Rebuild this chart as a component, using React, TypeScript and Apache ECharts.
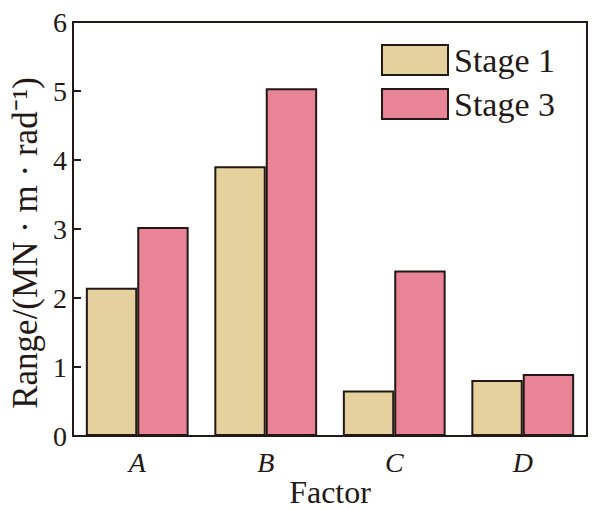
import React, { useEffect, useRef } from "react";
import * as echarts from "echarts";

const categories = ["A", "B", "C", "D"];
const stage1 = [2.15, 3.91, 0.66, 0.81];
const stage3 = [3.03, 5.04, 2.4, 0.9];
const yTicks = [0, 1, 2, 3, 4, 5, 6];

const FONT = "Liberation Serif";
const INK = "#231815";

export default function App() {
  const ref = useRef<HTMLDivElement>(null);
  useEffect(() => {
    if (!ref.current) return;
    const chart = echarts.init(ref.current, undefined, { renderer: "svg" });
    chart.setOption({
      animation: false,
      backgroundColor: "#ffffff",
      grid: {
        left: 73,
        right: 11,
        top: 22,
        bottom: 74,
        outerBoundsMode: "none",
        containLabel: false,
        show: true,
        borderColor: INK,
        borderWidth: 2,
        backgroundColor: "transparent",
      },
      legend: {
        orient: "vertical",
        left: 376,
        top: 38,
        icon: "rect",
        itemWidth: 66,
        itemHeight: 30,
        itemGap: 10,
        textStyle: { fontFamily: FONT, fontSize: 34, color: INK, padding: [0, 0, 0, 1] },
        data: ["Stage 1", "Stage 3"],
      },
      xAxis: {
        type: "category",
        data: categories,
        name: "Factor",
        nameLocation: "middle",
        nameGap: 40,
        nameMoveOverlap: false,
        nameTextStyle: { fontFamily: FONT, fontSize: 32, color: INK },
        axisLine: { show: true, lineStyle: { color: INK, width: 2 } },
        axisTick: { show: false },
        axisLabel: {
          fontFamily: FONT,
          fontSize: 28,
          fontStyle: "italic",
          color: INK,
          margin: 12,
        },
      },
      yAxis: {
        type: "value",
        min: yTicks[0],
        max: yTicks[yTicks.length - 1],
        interval: 1,
        name: "Range/(MN · m · rad⁻¹)",
        nameLocation: "middle",
        nameGap: 30,
        nameMoveOverlap: false,
        nameTextStyle: { fontFamily: FONT, fontSize: 35, color: INK, padding: [0, 28, 0, 0] },
        axisLine: { show: true, lineStyle: { color: INK, width: 2 } },
        axisTick: { show: true, inside: true, length: 8, lineStyle: { color: INK, width: 2 } },
        axisLabel: { fontFamily: FONT, fontSize: 28, color: INK, margin: 6 },
        splitLine: { show: false },
      },
      series: [
        {
          name: "Stage 1",
          type: "bar",
          data: stage1,
          barGap: "0%",
          barCategoryGap: "20%",
          itemStyle: { color: "#E5D19E", borderColor: INK, borderWidth: 2 },
        },
        {
          name: "Stage 3",
          type: "bar",
          data: stage3,
          barGap: "0%",
          barCategoryGap: "20%",
          itemStyle: { color: "#E98396", borderColor: INK, borderWidth: 2 },
        },
      ],
    });
    return () => chart.dispose();
  }, []);
  return (
    <div
      ref={ref}
      style={{ position: "fixed", left: 0, top: 0, width: 598, height: 510, background: "#fff" }}
    />
  );
}
